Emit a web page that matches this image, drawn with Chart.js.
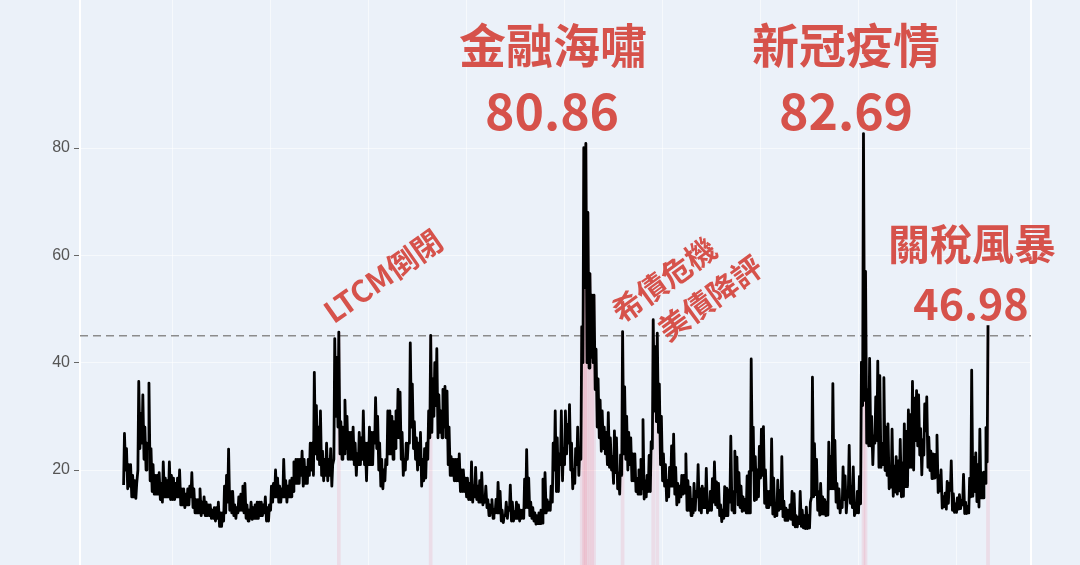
<!DOCTYPE html>
<html>
<head>
<meta charset="utf-8">
<script src="https://cdn.jsdelivr.net/npm/chart.js@4.4.1/dist/chart.umd.min.js"></script>
<style>
  html, body { margin: 0; padding: 0; background: #ebf1f9; }
  canvas { display: block; }
</style>
</head>
<body>
<canvas id="vix" width="1080" height="565"></canvas>
<script>
// VIX 月度低點 / 高點（收盤），1990/01 ~ 2025/04
const startYear = 1990;
const vixLow = [
  17.2, 20.0, 16.5, 17.0, 15.0, 15.0, 14.7, 20.0, 24.0, 25.0, 22.0, 20.0, // 1990
  24.0, 18.0, 16.0, 15.5, 15.5, 15.5, 14.5, 14.0, 15.0, 15.0, 15.0, 14.5, // 1991
  14.5, 14.5, 15.0, 15.0, 13.5, 13.5, 13.0, 13.5, 13.5, 15.0, 13.0, 12.0, // 1992
  12.0, 12.0, 11.5, 12.0, 11.5, 11.5, 11.5, 11.0, 11.0, 10.5, 11.0, 9.5,  // 1993
  9.5, 10.5, 12.0, 14.0, 12.5, 12.0, 11.5, 11.0, 12.0, 12.5, 12.5, 12.0,  // 1994
  11.0, 10.5, 11.0, 10.8, 11.0, 11.0, 11.0, 11.5, 11.5, 12.0, 10.5, 10.5, // 1995
  12.5, 14.0, 15.0, 15.0, 14.0, 14.0, 15.0, 15.0, 14.0, 15.0, 15.0, 16.0, // 1996
  17.5, 17.5, 17.5, 19.0, 17.0, 17.5, 17.5, 19.0, 20.0, 19.0, 23.0, 22.0, // 1997
  21.0, 19.0, 18.0, 19.0, 18.0, 19.0, 17.0, 22.0, 30.0, 28.0, 23.0, 22.0, // 1998
  23.0, 24.0, 22.0, 22.0, 22.0, 21.0, 19.0, 21.0, 21.0, 22.0, 21.0, 18.0, // 1999
  21.0, 21.0, 21.0, 25.0, 24.0, 20.0, 17.0, 16.5, 18.0, 21.0, 23.0, 23.0, // 2000
  22.0, 24.0, 26.0, 26.0, 22.0, 19.0, 20.0, 22.0, 25.0, 28.0, 24.0, 22.0, // 2001
  20.0, 21.0, 17.0, 18.0, 18.5, 22.0, 26.0, 27.0, 30.0, 32.0, 26.0, 27.0, // 2002
  26.0, 28.0, 26.0, 21.0, 19.0, 19.0, 18.0, 18.0, 18.0, 16.0, 16.0, 16.0, // 2003
  15.0, 14.5, 14.5, 14.0, 15.0, 14.5, 14.0, 14.0, 13.5, 14.0, 13.0, 11.5, // 2004
  12.0, 11.0, 12.0, 12.0, 12.0, 10.5, 10.2, 11.5, 11.0, 12.5, 10.5, 10.5, // 2005
  11.0, 11.0, 10.5, 11.0, 11.0, 13.0, 13.0, 11.5, 11.0, 10.5, 9.9, 10.0,  // 2006
  10.0, 10.1, 12.0, 12.0, 12.5, 12.5, 14.0, 20.0, 16.0, 16.0, 21.0, 18.0, // 2007
  21.0, 23.0, 25.0, 20.0, 16.5, 17.5, 21.0, 19.0, 22.0, 40.0, 54.0, 40.0, // 2008
  39.0, 41.0, 40.0, 35.0, 28.0, 26.0, 23.5, 24.0, 23.0, 21.0, 20.5, 20.0, // 2009
  17.5, 19.5, 16.5, 15.5, 19.0, 23.0, 22.0, 20.0, 21.0, 18.0, 18.0, 16.0, // 2010
  15.5, 15.5, 16.5, 14.6, 15.0, 16.0, 16.0, 24.0, 31.0, 29.0, 27.0, 21.0, // 2011
  18.0, 17.0, 14.3, 15.0, 17.0, 17.0, 15.5, 13.5, 14.0, 15.0, 15.5, 15.7, // 2012
  12.5, 12.5, 11.5, 12.0, 12.5, 15.0, 12.5, 12.0, 13.0, 13.0, 12.0, 12.5, // 2013
  12.5, 14.0, 13.5, 13.0, 11.5, 10.4, 11.0, 11.5, 11.5, 14.0, 12.5, 12.0, // 2014
  16.0, 13.5, 13.0, 12.3, 12.5, 12.0, 12.0, 12.0, 20.0, 14.3, 14.5, 15.0, // 2015
  18.5, 19.0, 13.8, 13.0, 13.0, 13.5, 11.8, 11.3, 11.5, 12.5, 12.8, 11.3, // 2016
  10.6, 10.6, 11.0, 10.8, 9.8, 9.4, 9.4, 10.0, 9.5, 9.2, 9.1, 9.1,        // 2017
  9.2, 15.0, 15.0, 15.4, 12.5, 11.6, 11.8, 11.8, 11.5, 11.6, 16.5, 16.5,  // 2018
  16.5, 14.0, 12.9, 12.0, 13.0, 14.5, 12.0, 16.0, 13.8, 13.0, 11.5, 12.0, // 2019
  12.0, 13.7, 32.0, 33.0, 25.0, 24.5, 24.5, 21.0, 25.0, 25.5, 20.5, 20.5, // 2020
  21.0, 19.9, 19.0, 16.5, 16.8, 15.1, 15.9, 15.5, 16.1, 15.0, 15.1, 16.9, // 2021
  16.9, 20.5, 20.5, 20.0, 25.5, 24.5, 22.8, 19.1, 22.8, 27.3, 20.5, 19.9, // 2022
  18.4, 18.5, 18.7, 15.8, 16.1, 12.9, 13.2, 12.7, 13.8, 16.2, 12.5, 12.1, // 2023
  12.1, 12.7, 12.8, 13.5, 11.9, 11.9, 12.0, 15.0, 15.1, 16.0, 14.1, 13.1, // 2024
  14.8, 14.8, 17.5, 21.5                                                  // 2025
];
const vixHigh = [
  26.8, 24.0, 21.0, 21.0, 19.0, 18.0, 17.5, 36.5, 30.5, 34.0, 28.0, 25.0, // 1990
  36.2, 24.0, 21.0, 19.0, 19.0, 19.5, 17.5, 21.5, 18.5, 18.0, 21.5, 19.0, // 1991
  18.5, 17.5, 18.5, 20.0, 16.5, 16.5, 15.5, 16.5, 17.0, 19.5, 16.5, 14.5, // 1992
  14.5, 16.5, 14.0, 15.0, 14.0, 13.5, 13.5, 12.5, 13.0, 13.0, 14.0, 12.0, // 1993
  12.0, 17.0, 19.0, 23.9, 16.0, 16.0, 13.5, 13.0, 15.0, 15.5, 17.0, 17.5, // 1994
  13.5, 12.5, 14.0, 13.0, 13.5, 14.0, 14.0, 14.0, 13.5, 15.0, 13.0, 13.5, // 1995
  17.0, 17.5, 20.0, 18.5, 17.0, 16.5, 22.0, 18.0, 17.0, 18.0, 18.5, 21.5, // 1996
  22.0, 22.0, 22.0, 23.5, 22.0, 20.5, 22.0, 25.0, 25.0, 38.2, 32.0, 28.0, // 1997
  31.0, 23.5, 22.0, 25.0, 22.0, 24.0, 21.0, 44.5, 41.0, 45.7, 29.0, 28.0, // 1998
  33.0, 30.0, 27.0, 27.0, 28.0, 25.0, 23.0, 27.0, 26.0, 31.0, 25.0, 25.0, // 1999
  28.0, 27.0, 27.0, 33.5, 30.0, 25.0, 22.0, 20.0, 22.0, 31.0, 31.0, 30.0, // 2000
  29.0, 31.0, 35.0, 34.5, 27.0, 22.0, 25.0, 25.0, 43.7, 36.0, 29.0, 26.0, // 2001
  25.0, 27.0, 22.0, 24.0, 25.0, 31.0, 45.1, 37.0, 40.0, 42.6, 34.0, 31.0, // 2002
  35.0, 35.6, 34.7, 28.0, 22.5, 22.0, 22.0, 22.0, 23.0, 20.0, 20.0, 18.5, // 2003
  18.5, 17.5, 21.5, 17.0, 20.5, 17.0, 18.0, 19.5, 15.0, 17.0, 14.5, 13.5, // 2004
  14.5, 12.5, 14.5, 17.7, 16.0, 12.5, 11.5, 14.0, 13.0, 17.2, 14.0, 12.2, // 2005
  14.0, 13.5, 12.5, 12.5, 18.3, 23.8, 18.5, 14.0, 13.0, 12.0, 11.5, 12.0, // 2006
  12.5, 18.3, 19.5, 14.5, 14.0, 17.0, 25.0, 31.0, 26.0, 23.0, 31.0, 24.0, // 2007
  31.0, 28.5, 32.2, 25.0, 20.0, 24.0, 28.0, 24.0, 46.7, 80.06, 80.86, 68.0, // 2008
  56.6, 52.6, 52.6, 42.5, 37.0, 33.0, 31.0, 28.0, 27.0, 30.7, 26.0, 22.5, // 2009
  27.3, 26.0, 19.5, 22.8, 45.8, 35.5, 30.0, 27.0, 26.0, 23.0, 23.0, 18.5, // 2010
  20.0, 22.0, 29.4, 18.0, 19.0, 22.7, 25.3, 48.0, 43.0, 45.5, 36.0, 30.0, // 2011
  23.0, 21.0, 18.0, 20.5, 24.5, 26.7, 20.5, 17.5, 17.0, 19.0, 19.0, 23.0, // 2012
  18.0, 16.8, 14.5, 17.5, 16.0, 21.0, 16.5, 17.0, 16.5, 20.3, 14.0, 16.0, // 2013
  18.4, 21.5, 17.8, 17.5, 13.5, 12.5, 16.9, 16.6, 16.3, 26.3, 16.0, 23.5, // 2014
  22.4, 19.5, 17.0, 15.0, 14.5, 18.9, 19.7, 40.7, 28.0, 22.5, 20.0, 24.4, // 2015
  27.6, 28.1, 20.0, 16.0, 16.0, 25.8, 18.5, 13.5, 18.1, 16.2, 22.5, 14.2, // 2016
  12.9, 12.5, 13.5, 16.0, 15.6, 11.5, 11.2, 16.0, 12.5, 11.5, 13.1, 11.5, // 2017
  14.0, 37.3, 24.9, 22.0, 16.0, 17.5, 15.0, 14.5, 14.0, 25.2, 22.5, 36.1, // 2018
  25.5, 17.5, 16.5, 14.0, 20.6, 18.9, 14.5, 24.6, 17.0, 20.6, 13.0, 16.0, // 2019
  18.8, 40.1, 82.69, 57.0, 35.0, 40.8, 30.0, 26.4, 33.6, 40.3, 37.6, 25.0, // 2020
  37.2, 28.0, 28.6, 20.5, 27.6, 20.7, 22.5, 21.7, 25.7, 21.3, 28.6, 27.2, // 2021
  31.2, 30.3, 36.5, 33.4, 34.8, 34.0, 27.7, 25.6, 32.3, 33.6, 26.1, 23.5, // 2022
  23.0, 22.9, 26.5, 19.0, 20.0, 15.1, 15.7, 17.9, 17.5, 21.7, 15.6, 13.7, // 2023
  14.8, 15.4, 14.3, 19.2, 14.0, 13.2, 18.5, 38.6, 22.4, 23.2, 21.0, 27.6, // 2024
  19.5, 19.6, 27.9, 46.98                                                 // 2025
];

const threshold = 45;                 // 虛線 / 粉紅區間門檻
const yTicks = [20, 40, 60, 80];
const xGridYears = [1992, 1996, 2000, 2004, 2008, 2012, 2016, 2020, 2024];
const xRange = [1988.24, 2027.06];
const yRange = [2.3, 107.58];

const eventNames = ['LTCM倒閉', '金融海嘯', '希債危機', '美債降評', '新冠疫情', '關稅風暴'];
const peakLabels = ['80.86', '82.69', '46.98'];

// 每月兩點：低點、高點
const vixSeries = [];
vixLow.forEach((lo, i) => {
    const t = startYear + i / 12;
    vixSeries.push({ x: t + 0.02, y: lo });
    vixSeries.push({ x: t + 0.055, y: vixHigh[i] });
});
const stressBars = vixSeries.filter(p => p.y > threshold);

const RED = '#d6524b';
const CJK = '"Noto Sans CJK TC", "Noto Sans CJK SC", sans-serif';
const isEdge = c => c.tick && (c.tick.value === xRange[0] || c.tick.value === xRange[1]);

const labelPlugin = {
    id: 'eventLabels',
    afterDatasetsDraw(chart) {
        const ctx = chart.ctx;
        ctx.save();
        ctx.fillStyle = RED;
        ctx.textAlign = 'center';
        const put = (txt, x, y, size, angle, baseline) => {
            ctx.save();
            ctx.translate(x, y);
            if (angle) ctx.rotate(-angle * Math.PI / 180);
            ctx.textBaseline = baseline || 'middle';
            ctx.font = `bold ${size}px ${CJK}`;
            ctx.fillText(txt, 0, 0);
            ctx.restore();
        };
        // 大標
        put(eventNames[1], 553, 45, 47);
        put(peakLabels[0], 552, 130, 50, 0, 'alphabetic');
        put(eventNames[4], 846, 45, 47);
        put(peakLabels[1], 846, 130, 50, 0, 'alphabetic');
        put(eventNames[5], 972, 244, 42);
        put(peakLabels[2], 971, 320, 43, 0, 'alphabetic');
        // 斜字
        put(eventNames[0], 383, 276, 30, 35);
        put(eventNames[2], 664, 280, 30, 36);
        put(eventNames[3], 710, 298, 30, 36);
        ctx.restore();
    }
};

new Chart(document.getElementById('vix'), {
    type: 'line',
    data: {
        datasets: [
            {
                type: 'line',
                data: vixSeries,
                borderColor: '#000000',
                borderWidth: 2.8,
                borderJoinStyle: 'round',
                pointRadius: 0,
                tension: 0,
                order: 0
            },
            {
                type: 'line',
                data: [{ x: xRange[0], y: threshold }, { x: xRange[1], y: threshold }],
                borderColor: '#8c8c8c',
                borderWidth: 1.5,
                borderDash: [8, 5],
                pointRadius: 0,
                order: 1
            },
            {
                type: 'bar',
                data: stressBars,
                backgroundColor: 'rgba(238, 120, 140, 0.16)',
                barThickness: 3,
                order: 2
            }
        ]
    },
    options: {
        responsive: false,
        animation: false,
        devicePixelRatio: 1,
        layout: { padding: { left: 0, right: 49, top: 0, bottom: 0 } },
        plugins: {
            legend: { display: false },
            tooltip: { enabled: false }
        },
        scales: {
            x: {
                type: 'linear',
                min: xRange[0],
                max: xRange[1],
                offset: false,
                afterBuildTicks: s => {
                    s.ticks = [xRange[0], ...xGridYears, xRange[1]].map(v => ({ value: v }));
                },
                ticks: { display: false },
                grid: {
                    offset: false,
                    drawTicks: false,
                    color: c => isEdge(c) ? '#ffffff' : 'rgba(255,255,255,0.55)',
                    lineWidth: c => isEdge(c) ? 2 : 1
                },
                border: { display: false }
            },
            y: {
                type: 'linear',
                min: yRange[0],
                max: yRange[1],
                afterBuildTicks: s => { s.ticks = yTicks.map(v => ({ value: v })); },
                afterFit: s => { s.width = 80; s.paddingTop = 0; s.paddingBottom = 0; },
                ticks: {
                    color: '#555555',
                    padding: 4,
                    font: { family: '"Liberation Sans", Arial, sans-serif', size: 16 }
                },
                grid: {
                    color: 'rgba(255,255,255,0.55)',
                    lineWidth: 1,
                    tickLength: 6,
                    tickColor: '#666666'
                },
                border: { display: true, color: '#ffffff', width: 2 }
            }
        }
    },
    plugins: [labelPlugin]
});
</script>
</body>
</html>
